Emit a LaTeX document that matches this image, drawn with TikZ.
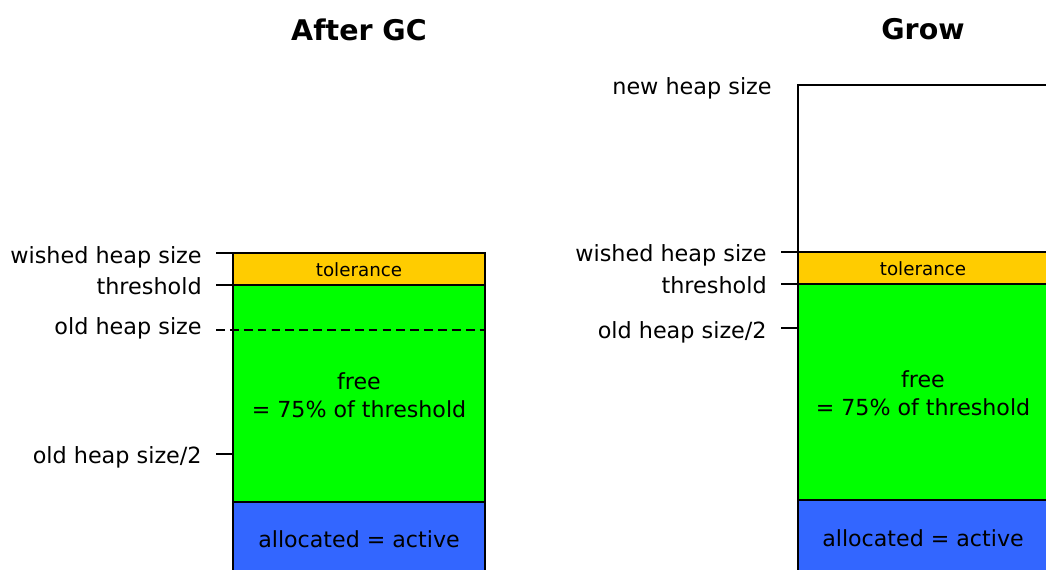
\documentclass[tikz,border=0pt]{standalone}
\usepackage{fontspec}
\setmainfont{DejaVu Sans}
\definecolor{tolorange}{HTML}{FFCC00}
\definecolor{freegreen}{HTML}{00FF00}
\definecolor{allocblue}{HTML}{3366FF}
\tikzset{
  lbl/.style={anchor=base east,inner sep=0pt,font=\fontsize{12.7}{14}\selectfont},
  txt/.style={anchor=base,inner sep=0pt,font=\fontsize{12.6}{14}\selectfont},
  tol/.style={anchor=base,inner sep=0pt,font=\fontsize{10.4}{12}\selectfont},
  ttl/.style={anchor=base,inner sep=0pt,font=\fontsize{16.2}{19}\selectfont\bfseries},
  bar/.style={line width=1.3pt},
}
\begin{document}
\begin{tikzpicture}[x=0.02cm,y=-0.02cm]
\useasboundingbox (0,0) rectangle (1046,570);
\clip (0,0) rectangle (1046,570);
% After GC
\node [ttl] (ttlgc) at (359,41) {After GC};
\filldraw[bar,fill=allocblue] (233,502) rectangle (485,600);
\filldraw[bar,fill=freegreen] (233,285) rectangle (485,502);
\filldraw[bar,fill=tolorange] (233,253) rectangle (485,285);
\draw[bar] (216,253) -- (233,253);
\draw[bar] (216,285) -- (233,285);
\draw[bar,dash pattern=on 5pt off 2.9pt] (216,330) -- (485,330);
\draw[bar] (216,454) -- (233,454);
\node [lbl] (wishgc) at (202,264) {wished heap size};
\node [lbl] (thrgc) at (202,295) {threshold};
\node [lbl] (oldgc) at (202,335) {old heap size};
\node [lbl] (halfgc) at (202,464) {old heap size/2};
\node [tol] (tolgc) at (359,277) {tolerance};
\node [txt] (freegc) at (359,390) {free};
\node [txt] (pctgc) at (359,418) {= 75\% of threshold};
\node [txt] (allocgc) at (359,548) {allocated = active};
% Grow
\node [ttl] (ttlgrow) at (923,39.5) {Grow};
\filldraw[bar,fill=white] (798,85) rectangle (1048,252);
\filldraw[bar,fill=allocblue] (798,500) rectangle (1048,600);
\filldraw[bar,fill=freegreen] (798,284) rectangle (1048,500);
\filldraw[bar,fill=tolorange] (798,252) rectangle (1048,284);
\draw[bar] (781,252) -- (798,252);
\draw[bar] (781,284) -- (798,284);
\draw[bar] (781,328) -- (798,328);
\node [lbl] (newgrow) at (772,95) {new heap size};
\node [lbl] (wishgrow) at (767,262) {wished heap size};
\node [lbl] (thrgrow) at (767,294) {threshold};
\node [lbl] (halfgrow) at (767,338.5) {old heap size/2};
\node [tol] (tolgrow) at (923,275.5) {tolerance};
\node [txt] (freegrow) at (923,388) {free};
\node [txt] (pctgrow) at (923,416) {= 75\% of threshold};
\node [txt] (allocgrow) at (923,546.5) {allocated = active};
\end{tikzpicture}
\end{document}
